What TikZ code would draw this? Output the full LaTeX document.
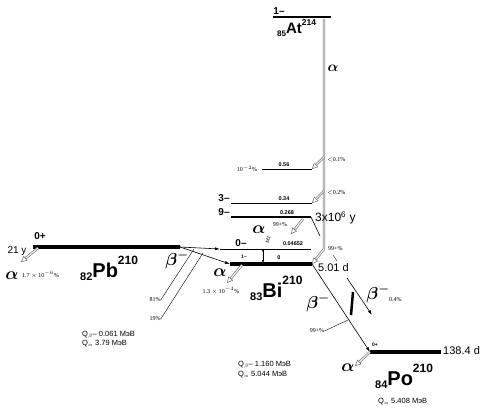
\documentclass[tikz,border=0pt]{standalone}
\usepackage{fontspec}
\setmainfont{Liberation Sans}
\newfontfamily\pctfont{Liberation Serif}
\usetikzlibrary{arrows.meta}

\newcommand{\nuc}[3]{\raisebox{-3pt}{\bfseries\fontsize{11}{11}\selectfont #1}{\bfseries\fontsize{20}{20}\selectfont #2}\raisebox{13pt}{\bfseries\fontsize{12}{12}\selectfont #3}}

\tikzset{
  lvl/.style={line width=0.9pt},
  midlvl/.style={line width=2.5pt},
  fatlvl/.style={line width=4pt},
  alphaline/.style={draw=black!60, double=gray!20, double distance=1.4pt, line width=0.5pt},
  alphaarr/.style={alphaline, -{Triangle[open,length=6pt,width=6pt]}},
  betaarr/.style={line width=0.6pt, -{Latex[length=5pt,width=3pt]}},
  lbl/.style={inner sep=0pt},
  pct/.style={lbl, font=\pctfont\fontsize{6}{7}\selectfont},
  en/.style={lbl, font=\bfseries\fontsize{5.5}{6}\selectfont},
  spin/.style={lbl, font=\bfseries\fontsize{10}{10}\selectfont},
  greek/.style={lbl, font=\boldmath\fontsize{18}{18}\selectfont},
  qval/.style={lbl, font=\fontsize{7.5}{8}\selectfont, anchor=west},
}

\begin{document}
\begin{tikzpicture}[x=1pt,y=-1pt]
\useasboundingbox (0,0) rectangle (493,413);

% level ends
\coordinate (atL) at (273,17);
\coordinate (atR) at (331,17);
\coordinate (l56L) at (262,169);
\coordinate (l56R) at (312,169);
\coordinate (l34L) at (231,203);
\coordinate (l34R) at (312,203);
\coordinate (l268L) at (231,217);
\coordinate (l268R) at (311,217);
\coordinate (l0mL) at (220,249);
\coordinate (l0mR) at (311,249);
\coordinate (biL) at (230,264);
\coordinate (biR) at (312,264);
\coordinate (pbL) at (33,247);
\coordinate (pbR) at (180,247);
\coordinate (poL) at (370,352);
\coordinate (poR) at (441,352);

\draw[midlvl] (atL) -- (atR);
\draw[lvl] (l56L) -- (l56R);
\draw[lvl] (l34L) -- (l34R);
\draw[midlvl] (l268L) -- (l268R);
\draw[lvl] (l0mL) -- (l0mR);
\draw[fatlvl] (biL) -- (biR);
\draw[fatlvl] (pbL) -- (pbR);
\draw[fatlvl] (poL) -- (poR);

% alpha of At
\coordinate (aTop) at (324,19);
\coordinate (aBend) at (324,249);
\coordinate (a56) at (324,157);
\coordinate (a34) at (324,191);
\draw[alphaarr] (aTop) -- (aBend) -- (biR);
\draw[alphaarr] (a56) -- (l56R);
\draw[alphaarr] (a34) -- (l34R);
\node[lbl, font=\boldmath\fontsize{15}{15}\selectfont] (aAt) at (333,68) {$\alpha$};

% 9- isomer
\coordinate (g268) at (320,236);
\draw[line width=0.6pt] (l268R) -- (g268);
\coordinate (a268s) at (303,219);
\coordinate (a268e) at (291,234);
\draw[alphaarr] (a268s) -- (a268e);

% M1
\coordinate (m1top) at (263,249);
\coordinate (m1bot) at (263,263);
\draw[line width=0.5pt, {Triangle[reversed,length=3pt,width=3pt]}-{Latex[length=3pt,width=2.5pt]}] (m1top) -- (m1bot);
\node[lbl, font=\itshape\fontsize{5}{5}\selectfont, rotate=75] (m1lbl) at (268,240) {M1};

% beta of Pb
\draw[betaarr] (pbR) -- (l0mL);
\draw[betaarr] (pbR) -- (biL);
\node[pct] (p81) at (155,300) {81\%};
\node[pct] (p19) at (155,319) {19\%};
\coordinate (l81) at (194,249);
\coordinate (l19) at (203,253);
\draw[line width=0.4pt] (p81.east) -- (l81);
\draw[line width=0.4pt] (p19.east) -- (l19);

% beta of Bi
\draw[betaarr] (biR) -- (poL);
\coordinate (barT) at (353,292);
\coordinate (barB) at (351,315);
\draw[line width=2.5pt] (barT) -- (barB);
\coordinate (b04s) at (347,278);
\coordinate (b04e) at (372,315);
\draw[betaarr] (b04s) -- (b04e);
\node[pct] (p99b) at (317,331) {99+\%};
\coordinate (l99b) at (348,320);
\draw[line width=0.4pt] (p99b.east) -- (l99b);

% alpha arrows
\coordinate (pbAs) at (38,248);
\coordinate (pbAe) at (21,262);
\draw[alphaarr] (pbAs) -- (pbAe);
\coordinate (biAs) at (242,265);
\coordinate (biAe) at (227,283);
\draw[alphaarr] (biAs) -- (biAe);
\coordinate (poAe) at (355,366);
\draw[alphaarr] (poL) -- (poAe);

% At texts
\node[spin] (at1) at (279,11) {1--};
\node[lbl, anchor=base west] (atnuc) at (277,33) {\raisebox{-3pt}{\bfseries\fontsize{8}{8}\selectfont 85}{\bfseries\fontsize{15}{15}\selectfont At}\raisebox{8pt}{\bfseries\fontsize{8.5}{8.5}\selectfont 214}};

% level texts
\node[en] (e56) at (284,165) {0.56};
\node[en] (e34) at (284,199) {0.34};
\node[en] (e268) at (287,213) {0.268};
\node[en] (e0465) at (293,244) {0.04652};
\node[en] (e0) at (279,258) {0};
\node[pct] (p102) at (247,169) {10$^{-2}$\%};
\node[pct, anchor=west] (p01) at (327,160) {$<$0.1\%};
\node[pct, anchor=west] (p02) at (327,193) {$<$0.2\%};
\node[spin] (s3) at (224,198) {3--};
\node[spin] (s9) at (224,212) {9--};
\node[lbl, font=\fontsize{12}{12}\selectfont, anchor=west] (t9) at (315,218) {3x10\textsuperscript{6} y};
\node[lbl, font=\boldmath\fontsize{16}{16}\selectfont] (a99) at (259,230) {$\alpha$};
\node[pct] (p99a) at (280,225) {99+\%};
\node[spin] (s0m) at (241,243) {0--};
\node[lbl, font=\bfseries\fontsize{5}{5}\selectfont] (s1m) at (244,257) {1--};
\node[pct, anchor=west] (p99c) at (328,249) {99+\%};
\coordinate (l99cs) at (333,255);
\coordinate (l99ce) at (337,261);
\draw[line width=0.4pt] (l99cs) -- (l99ce);
\node[lbl, font=\fontsize{11}{11}\selectfont, anchor=west] (t501) at (318,268) {5.01 d};

% Pb texts
\node[spin] (s0p) at (40,236) {0+};
\node[lbl, font=\fontsize{10}{10}\selectfont] (t21) at (17,251) {21 y};
\node[greek] (aPb) at (12,276) {$\alpha$};
\node[pct, anchor=west] (pPb) at (22,275) {1.7 $\times$ 10$^{-6}$\%};
\node[lbl, anchor=base west] (pbnuc) at (80,277) {\nuc{82}{Pb}{210}};
\node[greek] (bPb) at (177,260) {$\beta^-$};
\node[qval] (qpb1) at (82,335) {Q$_\beta$-- 0.061 MэB};
\node[qval] (qpb2) at (82,344) {Q$_\alpha$ 3.79 MэB};

% Bi texts
\node[greek] (aBi) at (220,273) {$\alpha$};
\node[pct] (pBi) at (221,291) {1.3 $\times$ 10$^{-4}$\%};
\node[lbl, anchor=base west] (binuc) at (250,297) {\nuc{83}{Bi}{210}};
\node[qval] (qbi1) at (238,365) {Q$_\beta$-- 1.160 MэB};
\node[qval] (qbi2) at (238,375) {Q$_\alpha$ 5.044 MэB};
\node[greek] (bBi) at (318,303) {$\beta^-$};
\node[greek] (bBi2) at (378,294) {$\beta^-$};
\node[pct, anchor=west] (p04) at (389,300) {0.4\%};

% Po texts
\node[lbl, font=\bfseries\fontsize{5}{5}\selectfont] (s0po) at (375,345) {0+};
\node[lbl, font=\fontsize{11}{11}\selectfont, anchor=west] (t138) at (443,351) {138.4 d};
\node[greek] (aPo) at (348,368) {$\alpha$};
\node[lbl, anchor=base west] (ponuc) at (375,385) {\nuc{84}{Po}{210}};
\node[qval] (qpo) at (378,402) {Q$_\alpha$ 5.408 MэB};
\end{tikzpicture}
\end{document}
